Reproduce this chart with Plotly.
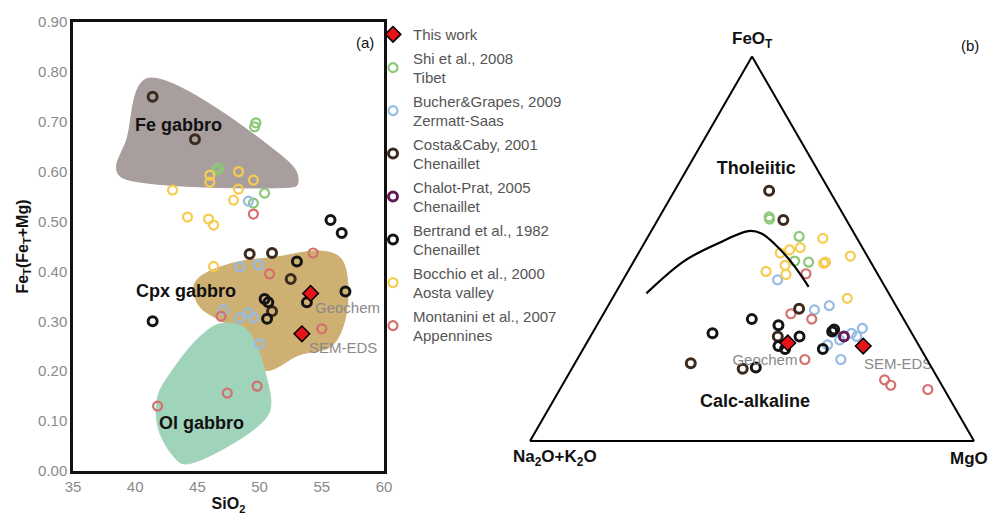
import plotly.graph_objects as go

# ------------------------- DATA -------------------------
# (a) SiO2 vs FeT/(FeT+Mg)
this_work_sio2 = [54.1, 53.4]
this_work_fe = [0.356, 0.275]
shi_sio2 = [49.6, 49.7, 46.7, 46.5, 50.4, 49.5]
shi_fe = [0.690, 0.698, 0.607, 0.603, 0.557, 0.537]
bucher_sio2 = [49.1, 48.4, 49.9, 47.1, 48.4, 49.1, 49.5, 50.0]
bucher_fe = [0.541, 0.409, 0.413, 0.323, 0.307, 0.317, 0.307, 0.255]
costa_sio2 = [41.4, 44.8, 49.2, 51.0, 52.5, 51.0]
costa_fe = [0.750, 0.665, 0.435, 0.437, 0.385, 0.320]
bertrand_sio2 = [41.4, 55.7, 56.6, 53.0, 50.4, 50.7, 50.6, 53.8, 56.9]
bertrand_fe = [0.300, 0.503, 0.477, 0.420, 0.345, 0.338, 0.305, 0.338, 0.360]
bocchio_sio2 = [48.3, 49.5, 46.0, 46.0, 43.0, 48.3, 47.9, 44.2, 45.9, 46.3, 46.3]
bocchio_fe = [0.600, 0.583, 0.593, 0.579, 0.563, 0.565, 0.543, 0.509, 0.505, 0.493, 0.410]
montanini_sio2 = [49.5, 54.3, 50.8, 46.9, 55.0, 41.8, 47.4, 49.8]
montanini_fe = [0.515, 0.437, 0.395, 0.310, 0.285, 0.130, 0.156, 0.170]

# field outlines (SiO2, FeT/(FeT+Mg))
fe_gabbro_sio2 = [40.9, 51.9, 53.0, 53.0, 52.4, 38.9, 38.5, 39.3]
fe_gabbro_fe = [0.786, 0.629, 0.597, 0.573, 0.569, 0.589, 0.609, 0.663]
cpx_gabbro_sio2 = [45.2, 47.9, 51.4, 54.9, 56.5, 57.1, 56.7, 55.7, 53.2, 50.4, 48.0, 45.2, 44.7]
cpx_gabbro_fe = [0.389, 0.417, 0.429, 0.441, 0.427, 0.373, 0.289, 0.249, 0.233, 0.202, 0.283, 0.329, 0.369]
ol_gabbro_sio2 = [46.8, 48.7, 49.6, 50.4, 50.9, 50.5, 47.9, 44.0, 43.2, 41.9, 41.8, 43.0, 45.2]
ol_gabbro_fe = [0.295, 0.289, 0.259, 0.202, 0.132, 0.106, 0.056, 0.014, 0.026, 0.082, 0.148, 0.202, 0.269]

# (b) AFM ternary: FeOT, Na2O+K2O, MgO (fractions)
this_work_feo = [0.255, 0.247]
this_work_alk = [0.292, 0.126]
this_work_mgo = [0.453, 0.627]
shi_feo = [0.583, 0.577, 0.532, 0.468, 0.465]
shi_alk = [0.170, 0.172, 0.128, 0.170, 0.140]
shi_mgo = [0.247, 0.251, 0.340, 0.362, 0.395]
bucher_feo = [0.419, 0.341, 0.352, 0.263, 0.280, 0.272, 0.293, 0.212, 0.250]
bucher_alk = [0.233, 0.189, 0.150, 0.171, 0.136, 0.128, 0.105, 0.194, 0.205]
bucher_mgo = [0.348, 0.470, 0.498, 0.566, 0.584, 0.600, 0.602, 0.594, 0.545]
costa_feo = [0.651, 0.575, 0.344, 0.272, 0.202, 0.188]
costa_alk = [0.136, 0.142, 0.222, 0.306, 0.537, 0.427]
costa_mgo = [0.213, 0.283, 0.434, 0.422, 0.261, 0.385]
chalot_feo = [0.272]
chalot_alk = [0.157]
chalot_mgo = [0.571]
bertrand_feo = [0.280, 0.317, 0.191, 0.301, 0.247, 0.239, 0.272, 0.239, 0.285, 0.290]
bertrand_alk = [0.449, 0.342, 0.396, 0.290, 0.317, 0.306, 0.257, 0.221, 0.177, 0.170]
bertrand_mgo = [0.271, 0.341, 0.413, 0.409, 0.436, 0.455, 0.471, 0.540, 0.538, 0.540]
bocchio_feo = [0.489, 0.497, 0.503, 0.527, 0.462, 0.457, 0.441, 0.433, 0.481, 0.371, 0.465]
bocchio_alk = [0.192, 0.167, 0.140, 0.077, 0.108, 0.197, 0.248, 0.207, 0.038, 0.100, 0.102]
bocchio_mgo = [0.319, 0.336, 0.357, 0.396, 0.430, 0.346, 0.311, 0.360, 0.481, 0.529, 0.433]
montanini_feo = [0.435, 0.331, 0.317, 0.212, 0.159, 0.145, 0.134]
montanini_alk = [0.161, 0.247, 0.207, 0.275, 0.122, 0.115, 0.037]
montanini_mgo = [0.404, 0.422, 0.476, 0.513, 0.719, 0.740, 0.829]

# Tholeiitic / calc-alkaline boundary
boundary_feo = [0.384, 0.468, 0.513, 0.546, 0.540, 0.508, 0.460, 0.401]
boundary_alk = [0.546, 0.419, 0.322, 0.235, 0.209, 0.191, 0.178, 0.172]
boundary_mgo = [0.070, 0.113, 0.165, 0.219, 0.251, 0.301, 0.362, 0.427]

# ternary field labels (FeOT, Na2O+K2O, MgO)
tern_label_text = ["<b>Tholeiitic</b>", "<b>Calc-alkaline</b>"]
tern_label_feo = [0.705, 0.101]
tern_label_alk = [0.138, 0.443]
tern_label_mgo = [0.157, 0.456]
tern_note_text = ["Geochem", "SEM-EDS"]
tern_note_feo = [0.208, 0.198]
tern_note_alk = [0.367, 0.072]
tern_note_mgo = [0.425, 0.730]

# ------------------------- STYLE -------------------------
FONT = "Liberation Sans, Arial, sans-serif"
series = [
    # name, left x, left y, tern a, b, c, color, symbol, size, linewidth, linecolor, rank
    ("Shi et al., 2008<br>Tibet", shi_sio2, shi_fe, shi_feo, shi_alk, shi_mgo,
     "rgb(140,200,120)", "circle-open", 9, 2.2, None, 2),
    ("Bucher&Grapes, 2009<br>Zermatt-Saas", bucher_sio2, bucher_fe, bucher_feo, bucher_alk, bucher_mgo,
     "rgb(150,188,228)", "circle-open", 9, 2.2, None, 3),
    ("Bocchio et al., 2000<br>Aosta valley", bocchio_sio2, bocchio_fe, bocchio_feo, bocchio_alk, bocchio_mgo,
     "rgb(246,204,80)", "circle-open", 9, 2.2, None, 7),
    ("Montanini et al., 2007<br>Appennines", montanini_sio2, montanini_fe, montanini_feo, montanini_alk, montanini_mgo,
     "rgb(212,112,110)", "circle-open", 9, 2.2, None, 8),
    ("Costa&Caby, 2001<br>Chenaillet", costa_sio2, costa_fe, costa_feo, costa_alk, costa_mgo,
     "rgb(60,42,30)", "circle-open", 9, 3, None, 4),
    ("Chalot-Prat, 2005<br>Chenaillet", [], [], chalot_feo, chalot_alk, chalot_mgo,
     "rgb(100,25,85)", "circle-open", 9, 3, None, 5),
    ("Bertrand et al., 1982<br>Chenaillet", bertrand_sio2, bertrand_fe, bertrand_feo, bertrand_alk, bertrand_mgo,
     "rgb(20,20,20)", "circle-open", 9, 3, None, 6),
    ("This work", this_work_sio2, this_work_fe, this_work_feo, this_work_alk, this_work_mgo,
     "rgb(230,20,25)", "diamond", 12, 1.5, "black", 1),
]

fig = go.Figure()

# fields in panel (a)
for xs, ys, col in [(fe_gabbro_sio2, fe_gabbro_fe, "rgb(168,158,158)"),
                    (cpx_gabbro_sio2, cpx_gabbro_fe, "rgb(206,176,114)"),
                    (ol_gabbro_sio2, ol_gabbro_fe, "rgb(160,212,186)")]:
    fig.add_trace(go.Scatter(
        x=xs + [xs[0]], y=ys + [ys[0]], mode="lines", fill="toself", fillcolor=col,
        line=dict(color=col, width=1, shape="spline", smoothing=1.0),
        hoverinfo="skip", showlegend=False))

for i, (name, sx, sy, ta, tb, tc, col, sym, size, lw, lc, rank) in enumerate(series):
    mk = dict(color=col, symbol=sym, size=size, line=dict(width=lw, color=lc if lc else col))
    if sx:
        fig.add_trace(go.Scatter(x=sx, y=sy, mode="markers", marker=mk,
                                 name=name, showlegend=False, legendgroup="g%d" % i))
    fig.add_trace(go.Scatterternary(a=ta, b=tb, c=tc, mode="markers", marker=mk,
                                    name=name, showlegend=True, legendrank=rank,
                                    legendgroup="g%d" % i))

# boundary curve
fig.add_trace(go.Scatterternary(a=boundary_feo, b=boundary_alk, c=boundary_mgo, mode="lines",
                                line=dict(color="black", width=2.2, shape="spline"),
                                showlegend=False, hoverinfo="skip"))

# ternary labels
fig.add_trace(go.Scatterternary(
    a=tern_label_feo, b=tern_label_alk, c=tern_label_mgo, mode="text", text=tern_label_text,
    textfont=dict(size=18, color="#111", family=FONT), showlegend=False, hoverinfo="skip"))
fig.add_trace(go.Scatterternary(
    a=tern_note_feo, b=tern_note_alk, c=tern_note_mgo, mode="text", text=tern_note_text,
    textfont=dict(size=15, color="#8a8a8a", family=FONT), showlegend=False, hoverinfo="skip"))

tern_axis = dict(showticklabels=False, showgrid=False, ticks="", linecolor="black",
                 linewidth=2, title=dict(text=""))


def pann(px, py, text, size, color="#111", xanchor="center"):
    return dict(x=px / 992, y=1 - py / 517, xref="paper", yref="paper", text=text,
                xanchor=xanchor, yanchor="middle", showarrow=False,
                font=dict(size=size, color=color))


fig.update_layout(
    width=992, height=517,
    margin=dict(l=0, r=0, t=0, b=0),
    paper_bgcolor="white", plot_bgcolor="white",
    font=dict(family=FONT, color="#555"),
    xaxis=dict(domain=[0.0736, 0.3871], range=[35, 60], tick0=35, dtick=5,
               showgrid=False, zeroline=False, showline=True, mirror=True,
               linecolor="#111", linewidth=2.5, ticks="", automargin=False,
               tickfont=dict(size=15, color="#8a8a8a"),
               title=dict(text="<b>SiO<sub>2</sub></b>", font=dict(size=16, color="#111"), standoff=5)),
    yaxis=dict(domain=[0.089, 0.9574], range=[0, 0.9], tick0=0, dtick=0.1, tickformat=".2f",
               showgrid=False, zeroline=False, showline=True, mirror=True,
               linecolor="#111", linewidth=2.5, ticks="", automargin=False,
               tickfont=dict(size=15, color="#8a8a8a"),
               title=dict(text="<b>Fe<sub>T</sub>(Fe<sub>T</sub>+Mg)</b>",
                          font=dict(size=16, color="#111"), standoff=6)),
    ternary=dict(
        domain=dict(x=[0.5343, 0.9819], y=[0.147, 0.8907]), sum=1, bgcolor="white",
        aaxis=tern_axis, baxis=tern_axis, caxis=tern_axis,
    ),
    legend=dict(x=0.376, y=0.965, xanchor="left", yanchor="top", bgcolor="rgba(0,0,0,0)",
                font=dict(size=15, color="#555", family=FONT), tracegroupgap=1),
    annotations=[
        dict(x=43.5, y=0.694, xref="x", yref="y", text="<b>Fe gabbro</b>", showarrow=False,
             font=dict(size=18, color="#111")),
        dict(x=44.1, y=0.361, xref="x", yref="y", text="<b>Cpx gabbro</b>", showarrow=False,
             font=dict(size=18, color="#111")),
        dict(x=45.3, y=0.096, xref="x", yref="y", text="<b>Ol gabbro</b>", showarrow=False,
             font=dict(size=18, color="#111")),
        dict(x=57.1, y=0.327, xref="x", yref="y", text="Geochem", showarrow=False,
             font=dict(size=15, color="#8a8a8a")),
        dict(x=56.7, y=0.247, xref="x", yref="y", text="SEM-EDS", showarrow=False,
             font=dict(size=15, color="#8a8a8a")),
        dict(x=58.5, y=0.858, xref="x", yref="y", text="(a)", showarrow=False,
             font=dict(size=15, color="#111")),
        pann(970, 45, "(b)", 15),
        # ternary apex labels
        pann(752, 40, "<b>FeO<sub>T</sub></b>", 17),
        pann(511, 458, "<b>Na<sub>2</sub>O+K<sub>2</sub>O</b>", 17, xanchor="left"),
        pann(990, 458, "<b>MgO</b>", 17, xanchor="right"),
    ],
)

fig.write_html("out.html")
